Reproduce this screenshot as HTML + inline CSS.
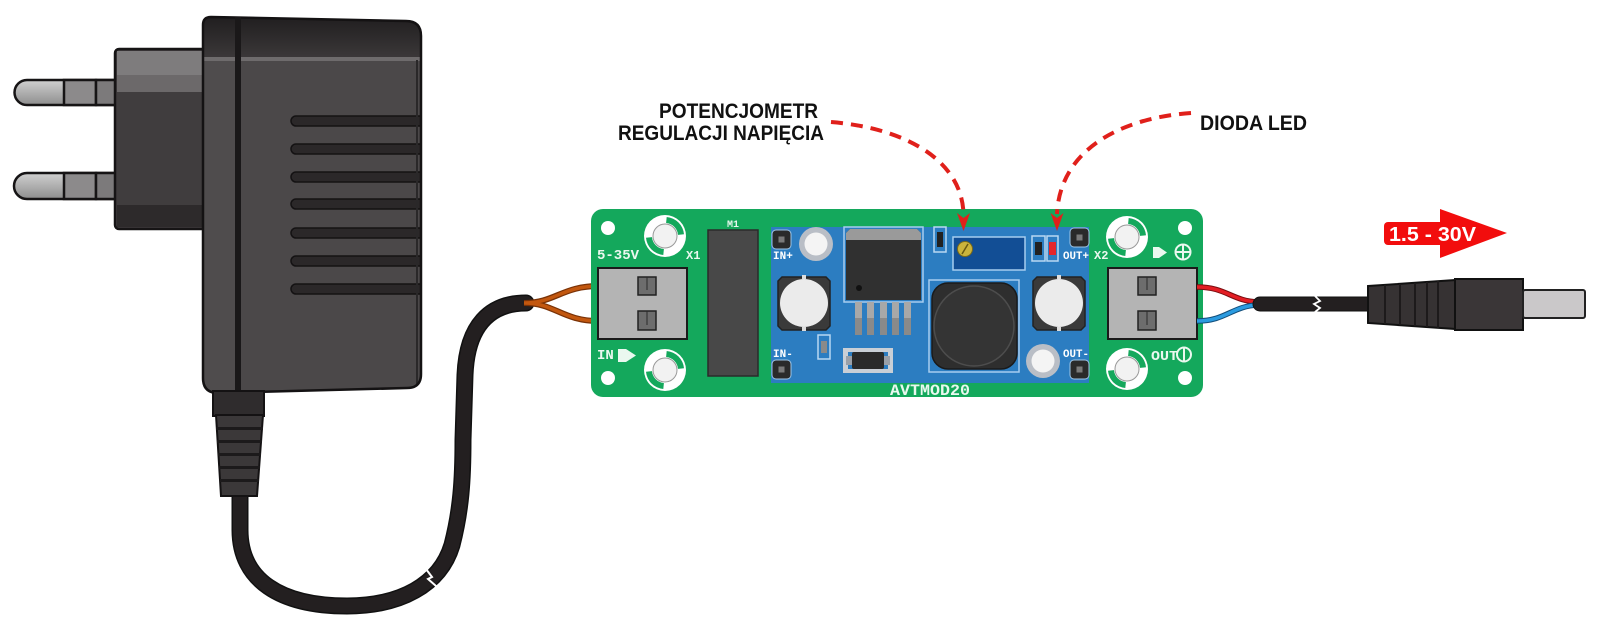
<!DOCTYPE html>
<html><head><meta charset="utf-8"><style>
html,body{margin:0;padding:0;background:#fff;}
svg{display:block;}
</style></head><body>
<svg width="1600" height="633" viewBox="0 0 1600 633" xmlns="http://www.w3.org/2000/svg">
<defs>
<linearGradient id="topg" x1="0" y1="0" x2="0" y2="1"><stop offset="0" stop-color="#1c1a1b"/><stop offset="1" stop-color="#3b3839"/></linearGradient>
<linearGradient id="ping" x1="0" y1="0" x2="0" y2="1"><stop offset="0" stop-color="#d0d0d0"/><stop offset="1" stop-color="#8e8e8e"/></linearGradient>
<clipPath id="bc"><path d="M211 17 L406 21 Q421 21 421 36 L421 374 Q421 388 407 388 L218 393 Q203 393 203 378 L203 25 Q203 17 211 17 Z"/></clipPath>
</defs>
<rect width="1600" height="633" fill="#fff"/>

<!-- cable from adapter -->
<path d="M240 490 L240 530 C240 580 280 606 347 606 C400 606 440 585 452 545 C461 510 463 480 463 440 L465 375 C467 325 490 303 526 303" fill="none" stroke="#111" stroke-width="17" stroke-linecap="round"/>
<path d="M240 490 L240 530 C240 580 280 606 347 606 C400 606 440 585 452 545 C461 510 463 480 463 440 L465 375 C467 325 490 303 526 303" fill="none" stroke="#231f20" stroke-width="14" stroke-linecap="round"/>
<polyline points="426,569 432,577 428,579 436,586" fill="none" stroke="#fff" stroke-width="2"/>
<!-- brown wires -->
<path d="M524 303 C555 303 562 286 599 286 M524 303 C555 303 562 321 599 321" fill="none" stroke="#7a3206" stroke-width="6"/>
<path d="M524 303 C555 303 562 286 599 286 M524 303 C555 303 562 321 599 321" fill="none" stroke="#c2570f" stroke-width="3.5"/>

<!-- pins -->
<g stroke="#161415" stroke-width="2.5">
<path d="M117 80 L27 80 A12.5 12.5 0 0 0 27 105 L117 105 Z" fill="url(#ping)"/>
<rect x="64" y="80" width="32" height="25" fill="#8c8a8b"/>
<rect x="96" y="80" width="20" height="25" fill="#7c7a7b"/>
<path d="M117 173 L27 173 A13 13 0 0 0 27 199 L117 199 Z" fill="url(#ping)"/>
<rect x="64" y="173" width="32" height="26" fill="#8c8a8b"/>
<rect x="96" y="173" width="20" height="26" fill="#7c7a7b"/>
</g>
<!-- plug block -->
<rect x="115" y="49" width="92" height="180" rx="4" fill="#403d3e"/>
<rect x="117" y="51" width="88" height="24" fill="#7e7c7d"/>
<rect x="117" y="75" width="88" height="17" fill="#6c696a"/>
<rect x="117" y="205" width="88" height="22" fill="#2d2a2b"/>
<rect x="115" y="49" width="92" height="180" rx="4" fill="none" stroke="#161415" stroke-width="2.5"/>

<!-- body -->
<g clip-path="url(#bc)">
<rect x="200" y="10" width="225" height="390" fill="#4b4849"/>
<rect x="200" y="10" width="225" height="48" fill="url(#topg)"/>
<rect x="200" y="57" width="225" height="4" fill="#6e6b6c"/>
<rect x="200" y="61" width="36" height="335" fill="#4f4c4d"/>
<g fill="#2b2829" stroke="#141213" stroke-width="1.5">
<path d="M424 116 L296 116 A5 5 0 0 0 296 126 L424 126 Z"/>
<path d="M424 144 L296 144 A5 5 0 0 0 296 154 L424 154 Z"/>
<path d="M424 172 L296 172 A5 5 0 0 0 296 182 L424 182 Z"/>
<path d="M424 199 L296 199 A5 5 0 0 0 296 209 L424 209 Z"/>
<path d="M424 228 L296 228 A5 5 0 0 0 296 238 L424 238 Z"/>
<path d="M424 256 L296 256 A5 5 0 0 0 296 266 L424 266 Z"/>
<path d="M424 284 L296 284 A5 5 0 0 0 296 294 L424 294 Z"/>
</g>
<rect x="416" y="60" width="2" height="330" fill="#2a2829"/>
</g>
<path d="M211 17 L406 21 Q421 21 421 36 L421 374 Q421 388 407 388 L218 393 Q203 393 203 378 L203 25 Q203 17 211 17 Z" fill="none" stroke="#141213" stroke-width="2.5"/>
<rect x="235" y="17" width="6" height="376" fill="#1a1819"/>

<!-- strain relief -->
<rect x="213" y="391" width="51" height="25" fill="#2f2c2d" stroke="#141213" stroke-width="2"/>
<polygon points="216,415 263,415 257,496 221,496" fill="#3b3839" stroke="#141213" stroke-width="2"/>
<g fill="#1c1a1b">
<rect x="216" y="427" width="47" height="3"/>
<rect x="217" y="440" width="45" height="3"/>
<rect x="218" y="453" width="43" height="3"/>
<rect x="219" y="466" width="41" height="3"/>
<rect x="220" y="479" width="39" height="3"/>
</g>

<!-- PCB -->
<rect x="591" y="209" width="612" height="188" rx="12" fill="#14a85c"/>
<g fill="#fff">
<circle cx="608" cy="228" r="7"/><circle cx="608" cy="378" r="7"/>
<circle cx="1185" cy="228" r="7"/><circle cx="1185" cy="378" r="7"/>
</g>
<!-- ring pads -->
<g id="ring1" transform="translate(665,236)">
<circle r="21" fill="#fff"/>
<path d="M1.7 -19 A19 19 0 0 1 19 -1.7 L13 -1.1 A13 13 0 0 0 1.1 -13 Z" fill="#14a85c"/>
<path d="M-1.7 19 A19 19 0 0 1 -19 1.7 L-13 1.1 A13 13 0 0 0 -1.1 13 Z" fill="#14a85c"/>
<circle r="12" fill="#f2f2f2" stroke="#999" stroke-width="1"/>
</g>
<g transform="translate(665,370)">
<circle r="21" fill="#fff"/>
<path d="M1.7 -19 A19 19 0 0 1 19 -1.7 L13 -1.1 A13 13 0 0 0 1.1 -13 Z" fill="#14a85c"/>
<path d="M-1.7 19 A19 19 0 0 1 -19 1.7 L-13 1.1 A13 13 0 0 0 -1.1 13 Z" fill="#14a85c"/>
<circle r="12" fill="#f2f2f2" stroke="#999" stroke-width="1"/>
</g>
<g transform="translate(1127,237)">
<circle r="21" fill="#fff"/>
<path d="M1.7 -19 A19 19 0 0 1 19 -1.7 L13 -1.1 A13 13 0 0 0 1.1 -13 Z" fill="#14a85c"/>
<path d="M-1.7 19 A19 19 0 0 1 -19 1.7 L-13 1.1 A13 13 0 0 0 -1.1 13 Z" fill="#14a85c"/>
<circle r="12" fill="#f2f2f2" stroke="#999" stroke-width="1"/>
</g>
<g transform="translate(1127,369)">
<circle r="21" fill="#fff"/>
<path d="M1.7 -19 A19 19 0 0 1 19 -1.7 L13 -1.1 A13 13 0 0 0 1.1 -13 Z" fill="#14a85c"/>
<path d="M-1.7 19 A19 19 0 0 1 -19 1.7 L-13 1.1 A13 13 0 0 0 -1.1 13 Z" fill="#14a85c"/>
<circle r="12" fill="#f2f2f2" stroke="#999" stroke-width="1"/>
</g>

<!-- terminals -->
<rect x="598" y="268" width="89" height="71" fill="#b4b4b4" stroke="#1a1a1a" stroke-width="2"/>
<rect x="638" y="277" width="18" height="18" fill="#6d6d6d" stroke="#222" stroke-width="1.5"/>
<rect x="638" y="311" width="18" height="19" fill="#6d6d6d" stroke="#222" stroke-width="1.5"/>
<path d="M647 277 L647 290 M647 311 L647 325" stroke="#2a2a2a" stroke-width="1"/>
<rect x="1108" y="268" width="89" height="71" fill="#b4b4b4" stroke="#1a1a1a" stroke-width="2"/>
<rect x="1138" y="277" width="18" height="18" fill="#6d6d6d" stroke="#222" stroke-width="1.5"/>
<rect x="1138" y="311" width="18" height="19" fill="#6d6d6d" stroke="#222" stroke-width="1.5"/>
<path d="M1147 277 L1147 290 M1147 311 L1147 325" stroke="#2a2a2a" stroke-width="1"/>

<!-- green labels -->
<g fill="#eaf8ef" font-family="'Liberation Mono', monospace" font-weight="bold">
<text x="597" y="259" font-size="14" textLength="42" lengthAdjust="spacingAndGlyphs">5-35V</text>
<text x="686" y="259" font-size="12">X1</text>
<text x="597" y="359" font-size="14">IN</text>
<text x="733" y="227" font-size="10" text-anchor="middle">M1</text>
<text x="1151" y="360" font-size="14" textLength="27" lengthAdjust="spacingAndGlyphs">OUT</text>
<text x="890" y="395" font-size="16" textLength="80" lengthAdjust="spacingAndGlyphs">AVTMOD20</text>
</g>
<path d="M618 349 L626 349 L636 355.5 L626 362 L618 362 Z" fill="#eaf8ef"/>
<path d="M1153 247 L1159 247 L1167 252.5 L1159 258 L1153 258 Z" fill="#eaf8ef"/>
<circle cx="1183" cy="252" r="7.5" fill="none" stroke="#eaf8ef" stroke-width="2"/>
<path d="M1175.5 252 L1190.5 252 M1183 244.5 L1183 259.5" stroke="#eaf8ef" stroke-width="2"/>
<circle cx="1184" cy="354.5" r="7" fill="none" stroke="#eaf8ef" stroke-width="2"/>
<path d="M1184 348 L1184 361" stroke="#eaf8ef" stroke-width="2"/>

<!-- M1 -->
<rect x="708" y="230" width="50" height="146" fill="#484848" stroke="#2a2a2a" stroke-width="1.5"/>

<!-- blue module -->
<rect x="771" y="227" width="318" height="156" fill="#2c7dc1"/>
<!-- pads -->
<g>
<rect x="772" y="230" width="19" height="19" rx="4" fill="#2a2a2a" stroke="#9fc6e8" stroke-width="1"/>
<rect x="778.5" y="236.5" width="6" height="6" fill="#7a7a7a"/>
<rect x="772" y="360" width="19" height="19" rx="4" fill="#2a2a2a" stroke="#9fc6e8" stroke-width="1"/>
<rect x="778.5" y="366.5" width="6" height="6" fill="#7a7a7a"/>
<rect x="1070" y="228" width="19" height="19" rx="4" fill="#2a2a2a" stroke="#9fc6e8" stroke-width="1"/>
<rect x="1076.5" y="234.5" width="6" height="6" fill="#7a7a7a"/>
<rect x="1070" y="360" width="19" height="19" rx="4" fill="#2a2a2a" stroke="#9fc6e8" stroke-width="1"/>
<rect x="1076.5" y="366.5" width="6" height="6" fill="#7a7a7a"/>
</g>
<g fill="#fff" font-family="'Liberation Mono', monospace" font-weight="bold" font-size="11">
<text x="773" y="259">IN+</text>
<text x="773" y="357">IN-</text>
<text x="1063" y="259" textLength="26" lengthAdjust="spacingAndGlyphs">OUT+</text>
<text x="1063" y="357" textLength="26" lengthAdjust="spacingAndGlyphs">OUT-</text>
</g>
<text x="1094" y="259" fill="#eaf8ef" font-family="'Liberation Mono', monospace" font-weight="bold" font-size="12">X2</text>

<!-- gray holes -->
<circle cx="816" cy="244" r="17" fill="#b9bec6"/><circle cx="816" cy="244" r="11.5" fill="#f4f4f4"/>
<circle cx="1043" cy="361" r="17" fill="#b9bec6"/><circle cx="1043" cy="361" r="11.5" fill="#f4f4f4"/>

<!-- caps -->
<path d="M782 277 L826 277 L830 281 L830 326 L826 330 L782 330 L778 326 L778 281 Z" fill="#3a3a3a" stroke="#222" stroke-width="1.5"/>
<circle cx="804" cy="303" r="24" fill="#ebebeb"/>
<rect x="802" y="275" width="4" height="4" fill="#ddd"/><rect x="802" y="327" width="4" height="4" fill="#ddd"/>
<path d="M1037 277 L1081 277 L1085 281 L1085 326 L1081 330 L1037 330 L1033 326 L1033 281 Z" fill="#3a3a3a" stroke="#222" stroke-width="1.5"/>
<circle cx="1059" cy="303" r="24" fill="#ebebeb"/>
<rect x="1057" y="275" width="4" height="4" fill="#ddd"/><rect x="1057" y="327" width="4" height="4" fill="#ddd"/>

<!-- small resistor -->
<rect x="818" y="335" width="12" height="24" fill="none" stroke="#b8d8f2" stroke-width="1.5"/>
<rect x="821" y="341" width="6" height="12" fill="#8a8a8a"/>
<!-- SOT -->
<rect x="843" y="348" width="50" height="25" fill="#c9cfd6"/>
<rect x="848" y="352" width="40" height="17" fill="#2c7dc1"/>
<rect x="846" y="356" width="6" height="9" fill="#9aa0a8"/><rect x="884" y="356" width="6" height="9" fill="#9aa0a8"/>
<rect x="852" y="352" width="32" height="17" rx="2" fill="#2a2a2a"/>

<!-- regulator -->
<rect x="844" y="227" width="79" height="75" fill="none" stroke="#a6cdef" stroke-width="1.5"/>
<path d="M850 229 L917 229 L921 233 L921 300 L846 300 L846 233 Z" fill="#303030"/>
<path d="M850 229 L917 229 L921 233 L921 240 L846 240 L846 233 Z" fill="#9a9a9a"/>
<circle cx="859" cy="288" r="3" fill="#111"/>
<g fill="#a8a8a8">
<rect x="855" y="302" width="7" height="33"/><rect x="867" y="302" width="7" height="33"/>
<rect x="880" y="302" width="7" height="33"/><rect x="892" y="302" width="7" height="33"/>
<rect x="904" y="302" width="7" height="33"/>
</g>
<g fill="#8a8a8a">
<rect x="855" y="318" width="7" height="17"/><rect x="867" y="318" width="7" height="17"/>
<rect x="880" y="318" width="7" height="17"/><rect x="892" y="318" width="7" height="17"/>
<rect x="904" y="318" width="7" height="17"/>
</g>

<!-- small smd -->
<rect x="934" y="227" width="12" height="25" fill="none" stroke="#b8d8f2" stroke-width="1.5"/>
<rect x="937" y="232" width="6" height="15" fill="#222"/>

<!-- potentiometer -->
<rect x="953" y="237" width="72" height="33" fill="#124e95" stroke="#a6cdef" stroke-width="1.5"/>
<circle cx="965" cy="249" r="7.5" fill="#cbb43c" stroke="#7a6a1a" stroke-width="1"/>
<path d="M962 254 L968 244" stroke="#6a5a10" stroke-width="1.5"/>

<!-- inductor -->
<rect x="929" y="280" width="90" height="92" fill="none" stroke="#a6cdef" stroke-width="1.5"/>
<rect x="932" y="283" width="85" height="86" rx="16" fill="#2e2e2e" stroke="#1a1a1a" stroke-width="1.5"/>
<circle cx="974" cy="326" r="40" fill="#343434" stroke="#4d4d4d" stroke-width="1.5"/>

<!-- LED area -->
<rect x="1032" y="236" width="13" height="25" fill="none" stroke="#b8d8f2" stroke-width="1.5"/>
<rect x="1035" y="242" width="7" height="13" fill="#222"/>
<rect x="1047" y="236" width="11" height="25" fill="none" stroke="#b8d8f2" stroke-width="1.5"/>
<rect x="1049" y="242" width="7" height="13" fill="#e3262b"/>

<!-- right wires -->
<path d="M1197 287 C1226 287 1232 301 1258 302" fill="none" stroke="#7a0d10" stroke-width="5.5"/>
<path d="M1197 287 C1226 287 1232 301 1258 302" fill="none" stroke="#e31e24" stroke-width="3.5"/>
<path d="M1197 321 C1226 321 1232 306 1258 305" fill="none" stroke="#124e7a" stroke-width="5.5"/>
<path d="M1197 321 C1226 321 1232 306 1258 305" fill="none" stroke="#2b9be0" stroke-width="3.5"/>
<!-- DC cable -->
<path d="M1260 297 L1372 297 L1372 311 L1260 311 A7 7 0 0 1 1260 297 Z" fill="#231f20" stroke="#111" stroke-width="1"/>
<polyline points="1315,296 1320,301 1314,304 1320,308 1315,312" fill="none" stroke="#fff" stroke-width="1.8"/>
<!-- plug boot -->
<polygon points="1368,286 1456,280 1456,329 1368,323" fill="#363233" stroke="#111" stroke-width="2"/>
<g stroke="#1d1a1b" stroke-width="2">
<path d="M1385 285 L1385 324 M1400 284 L1400 325 M1415 283 L1415 326 M1427 282 L1427 327 M1438 281 L1438 328"/>
</g>
<rect x="1455" y="279" width="68" height="51" fill="#3a3637" stroke="#111" stroke-width="2"/>
<rect x="1523" y="290" width="62" height="28" rx="2" fill="#cac8c9" stroke="#222" stroke-width="2"/>

<!-- red voltage arrow -->
<rect x="1384" y="222" width="70" height="23" rx="4" fill="#f20d0d"/>
<polygon points="1440,209 1507,233 1440,258" fill="#f20d0d"/>
<text x="1389" y="241" fill="#fff" font-family="'Liberation Sans', sans-serif" font-weight="bold" font-size="20" textLength="87" lengthAdjust="spacingAndGlyphs">1.5 - 30V</text>

<!-- callout labels -->
<g font-family="'Liberation Sans', sans-serif" font-weight="bold" fill="#111" font-size="21">
<text x="659" y="118" textLength="159" lengthAdjust="spacingAndGlyphs">POTENCJOMETR</text>
<text x="618" y="140" textLength="206" lengthAdjust="spacingAndGlyphs">REGULACJI NAPIĘCIA</text>
<text x="1200" y="130" textLength="107" lengthAdjust="spacingAndGlyphs">DIODA LED</text>
</g>
<path d="M831 122 C905 128 962 160 963.5 214" fill="none" stroke="#e0201b" stroke-width="4" stroke-dasharray="12 8"/>
<path d="M1191 113 C1120 118 1060 150 1057 214" fill="none" stroke="#e0201b" stroke-width="4" stroke-dasharray="12 8"/>
<polygon points="963.5,231 957,213 963.5,218 970,213" fill="#e0201b"/>
<polygon points="1057,231 1050.5,213 1057,218 1063.5,213" fill="#e0201b"/>
</svg>
</body></html>
